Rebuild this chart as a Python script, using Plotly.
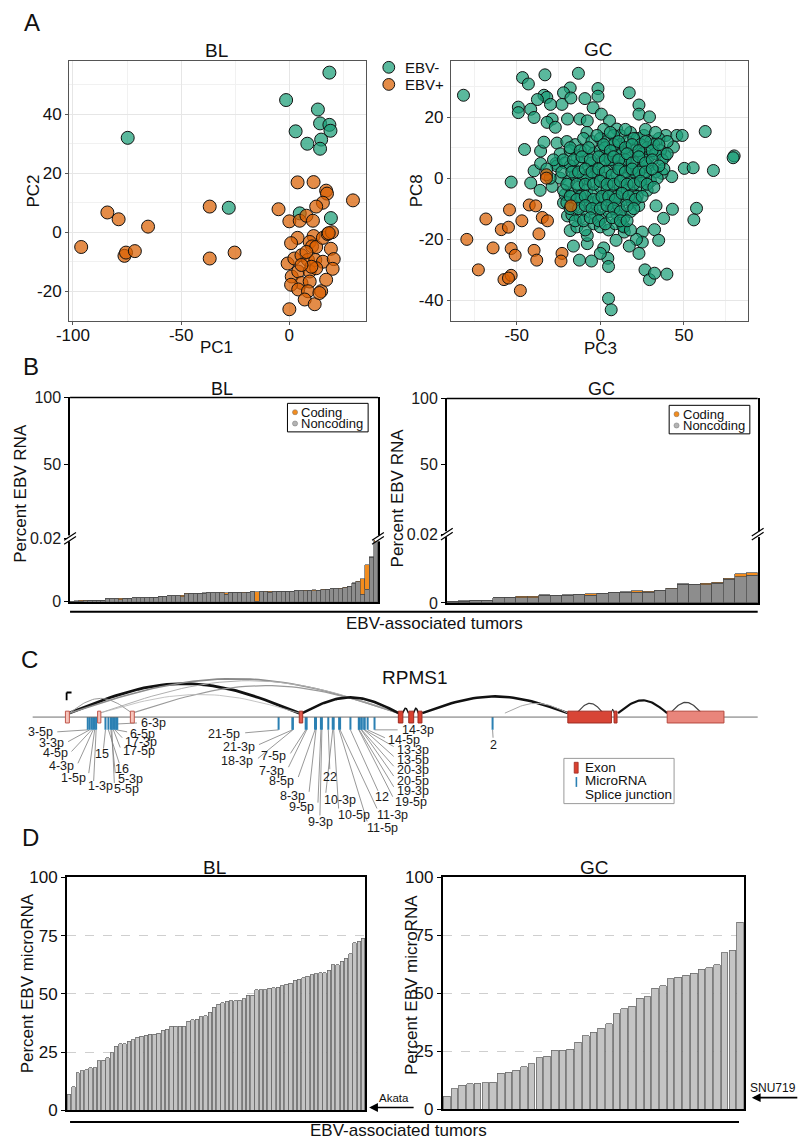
import math
import plotly.graph_objects as go

W, H = 800, 1147
FONT = "Liberation Sans"

# ---------------- Panel A : PCA ----------------
BL_NEG = [(18.5, 54.1), (-1.5, 44.8), (13.2, 41.6), (14.2, 36.9), (18.5, 36.4), (19.0, 34.4), (2.9, 34.2),
          (14.7, 31.4), (8.3, 30.0), (14.2, 28.3), (-74.7, 32.0), (-28.0, 8.3), (19.2, 4.8), (4.8, 6.4)]
BL_POS = [(-96.2, -5.0), (-84.1, 6.7), (-78.9, 4.4), (-65.3, 1.9), (-76.2, -8.0), (-75.5, -6.9), (-71.4, -6.4),
          (-36.8, 8.7), (-36.8, -8.9), (-25.3, -6.9), (-5.0, 7.8), (3.8, 16.9), (11.2, 17.0), (17.0, 14.1),
          (17.4, 13.1), (15.5, 10.0), (12.4, 8.7), (29.4, 10.8), (0.0, 3.7), (4.8, 3.9), (7.9, 5.6), (10.9, 3.9),
          (3.8, -1.9), (0.8, -3.7), (11.2, -1.3), (9.4, -3.3), (10.5, -4.8), (12.4, -5.0), (15.5, -1.9),
          (17.7, -0.6), (19.7, 0.0), (18.2, -0.3), (19.2, -5.6), (-0.8, -10.6), (2.3, -8.9), (5.6, -7.8),
          (8.6, -9.4), (12.0, -9.4), (15.5, -10.0), (20.5, -9.1), (20.0, -12.4), (1.1, -15.0), (4.1, -13.3),
          (9.4, -13.3), (12.4, -12.2), (10.2, -11.7), (5.6, -17.2), (0.8, -17.8), (4.1, -19.4), (9.4, -16.7),
          (8.6, -20.0), (14.7, -20.0), (17.0, -16.1), (7.1, -22.8), (11.7, -24.4), (0.0, -26.1), (13.9, -20.6),
          (5.6, -11.1), (7.9, -6.7)]
GC_NEG = [(-81.8, 27.2), (-46.5, 33.0), (-43.0, 30.9), (-33.1, 33.9), (-13.1, 34.4), (-18.0, 29.6), (-22.0, 28.0),
          (-33.7, 27.2), (-32.0, 26.5), (-37.6, 25.8), (-22.9, 24.2), (-17.6, 26.3), (-1.4, 29.4), (-1.4, 26.9),
          (-9.2, 26.1), (17.3, 28.0), (23.1, 24.0), (23.1, 21.0), (29.4, 20.1), (-49.0, 23.3), (-49.0, 21.5),
          (-41.6, 22.6), (-39.6, 19.9), (-29.8, 24.2), (-28.8, 19.4), (-31.8, 18.3), (-26.9, 16.7), (-19.6, 19.4),
          (-12.2, 19.4), (-7.8, 18.8), (-4.3, 23.1), (0.6, 21.0), (5.5, 18.8), (9.8, 16.1), (-45.3, 9.4),
          (-35.7, 8.9), (-33.7, 11.8), (-25.9, 11.5), (-53.3, -1.3), (-41.6, -1.6), (-39.6, 2.4), (-35.7, 4.8),
          (-28.8, -2.7), (-26.5, 4.8), (39.2, 14.0), (45.7, 14.0), (49.0, 14.0), (62.7, 15.3), (50.2, 3.2),
          (55.5, 3.4), (67.6, 2.5), (80.0, 7.3), (79.4, 6.7), (38.8, 7.2), (43.7, 10.2), (42.7, 0.5), (36.9, 1.6),
          (33.3, -9.1), (43.1, -10.2), (57.5, -9.9), (55.9, -13.7), (37.8, -13.2), (32.4, -16.9), (34.9, -20.4),
          (25.1, -17.7), (25.1, -21.0), (21.6, -20.1), (23.1, -24.7), (17.3, -22.3), (26.7, -30.1), (29.4, -33.3),
          (32.4, -31.2), (39.8, -31.5), (4.9, -39.5), (6.5, -43.2), (2.0, -22.9), (4.5, -26.3), (0.0, -24.7),
          (4.9, -29.0), (-5.3, -27.2), (-12.5, -26.9), (-16.1, -22.3), (-7.8, -21.5), (-7.8, -18.8), (9.4, -20.4),
          (14.3, -17.7), (13.3, -15.6), (-18.0, -17.2), (-19.6, -12.4), (-22.0, -8.1), (-21.0, -5.4),
          (-8, 15), (2, 16), (12, 14), (18, 15), (22, 13), (26, 14), (30, 12), (35, 13),
          (-20, 12), (-15, 11), (-10, 13), (-5, 12), (0, 13), (4, 12), (8, 14), (12, 11), (16, 12), (20, 13),
          (24, 11), (28, 10), (32, 11), (36, 9),
          (-24, 8), (-18, 9), (-14, 7), (-9, 9), (-4, 8), (0, 9), (4, 7), (9, 9), (13, 8), (17, 7), (21, 9),
          (25, 8), (29, 7), (33, 8), (37, 6),
          (-26, 4), (-21, 5), (-16, 3), (-12, 5), (-7, 4), (-3, 3), (1, 5), (5, 3), (9, 5), (13, 4), (17, 3),
          (21, 5), (25, 3), (29, 4), (33, 2), (38, 3),
          (-24, 0), (-19, -1), (-15, 1), (-10, 0), (-6, -1), (-2, 1), (2, 0), (6, -1), (10, 1), (14, 0), (18, -1),
          (22, 1), (26, 0), (30, -1), (34, 0),
          (-22, -4), (-17, -5), (-13, -3), (-8, -4), (-4, -5), (0, -3), (4, -4), (8, -5), (12, -3), (16, -4),
          (20, -5), (24, -3), (28, -4),
          (-20, -8), (-15, -9), (-11, -7), (-6, -8), (-2, -9), (3, -7), (7, -8), (11, -9), (15, -7), (19, -8),
          (23, -9),
          (-17, -12), (-12, -13), (-8, -11), (-3, -12), (1, -13), (5, -11), (10, -12), (14, -13), (18, -11),
          (-14, -16), (-9, -17), (-4, -15), (0, -16), (5, -17), (9, -15), (14, -16), (18, -17),
          (-5, 5), (3, 10), (15, 6), (10, -6), (-12, -6), (20, 2), (6, 6), (-1, -7), (12, 3), (-8, 1), (26, 6),
          (8, 11), (22, -6), (-18, 4), (-30, 0), (-28, 6), (-36, -4), (-32, 3),
          (-2, 14), (6, 15), (15, 16), (27, 16), (33, 15), (40, 12),
          (-18, 10), (-12, 9), (-7, 10), (2, 11), (6, 9), (11, 12), (15, 10), (19, 11), (23, 9), (27, 12),
          (31, 9), (35, 11), (40, 8),
          (-22, 6), (-16, 6), (-11, 7), (-6, 6), (-1, 7), (3, 6), (8, 7), (11, 6), (16, 8), (19, 5), (23, 7),
          (27, 5), (31, 6), (35, 4),
          (-23, 2), (-17, 2), (-13, 2), (-9, 3), (-5, 2), (-1, 3), (3, 2), (7, 1), (11, 3), (15, 2), (19, 3),
          (23, 2), (27, 2), (31, 3),
          (-20, -2), (-14, -2), (-9, -2), (-4, -2), (0, -1), (4, -2), (8, -2), (12, -1), (16, -2), (20, -2),
          (24, -1), (28, -2), (32, -3),
          (-18, -6), (-14, -7), (-9, -6), (-4, -7), (1, -6), (5, -6), (9, -7), (13, -5), (17, -6), (21, -7),
          (25, -6),
          (-18, -10), (-13, -10), (-9, -9), (-5, -10), (0, -10), (4, -9), (8, -10), (12, -11), (16, -9),
          (20, -10),
          (-15, -14), (-10, -14), (-6, -13), (-1, -14), (3, -15), (7, -13), (12, -14), (16, -14)]
GC_POS = [(-79.8, -20.1), (-72.9, -30.1), (-68.4, -13.4), (-64.1, -22.9), (-59.2, -16.9), (-54.9, -16.1),
          (-54.3, -10.4), (-53.3, -23.1), (-50.9, -25.3), (-57.6, -33.3), (-53.3, -31.9), (-54.9, -32.8),
          (-47.8, -36.9), (-46.9, -14.0), (-42.5, -8.8), (-38.6, -9.1), (-36.7, -18.3), (-39.6, -23.7),
          (-38.0, -26.9), (-34.7, -12.9), (-31.6, -14.0), (-32.2, 1.1), (-32.2, 0.0), (-22.9, -24.7),
          (-23.5, -27.2), (-17.6, -9.1)]

# ---------------- Panel B : percent EBV RNA ----------------
B_BL_NONCODING = [0.00009, 0.00019, 0.00016, 0.00037, 0.00040, 0.00040, 0.00043, 0.00047, 0.00087, 0.00093,
                  0.00095, 0.00068, 0.00112, 0.00115, 0.00121, 0.00124, 0.00127, 0.00130, 0.00134, 0.00140,
                  0.00174, 0.00180, 0.00186, 0.00189, 0.00192, 0.00149, 0.00258, 0.00264, 0.00267, 0.00270,
                  0.00273, 0.00276, 0.00276, 0.00286, 0.00289, 0.00236, 0.00292, 0.00295, 0.00298, 0.00280,
                  0.00304, 0.00307, 0.00009, 0.00311, 0.00317, 0.00304, 0.00320, 0.00326, 0.00329, 0.00332,
                  0.00335, 0.00342, 0.00348, 0.00351, 0.00360, 0.00354, 0.00366, 0.00382, 0.00398, 0.00404,
                  0.00410, 0.00416, 0.00447, 0.00484, 0.00590, 0.00637, 0.00239, 0.00394, 0.01410, 0.01894]
B_BL_CODING = [0, 0.00006, 0.00031, 0.00003, 0, 0.00003, 0, 0.00003, 0.00003, 0,
               0, 0.00047, 0.00003, 0, 0.00003, 0, 0.00003, 0, 0.00006, 0,
               0.00006, 0, 0.00009, 0, 0.00003, 0.00062, 0.00006, 0, 0.00006, 0,
               0.00006, 0, 0.00009, 0, 0.00006, 0.00047, 0, 0.00009, 0, 0.00025,
               0, 0.00006, 0.00304, 0, 0.00006, 0.00022, 0, 0.00006, 0, 0.00006,
               0, 0.00006, 0, 0.00009, 0, 0.00031, 0, 0.00006, 0, 0.00009,
               0, 0.00009, 0.00006, 0, 0.00009, 0.00016, 0.00488, 0.00776, 0.00016, 0.00047]
B_GC_NONCODING = [0.00037, 0.00057, 0.00077, 0.00086, 0.00151, 0.00163, 0.00151, 0.00151, 0.00229, 0.00229,
                  0.00229, 0.00237, 0.00229, 0.00277, 0.00314, 0.00314, 0.00314, 0.00314, 0.00363, 0.00420,
                  0.00543, 0.00543, 0.00523, 0.00571, 0.00694, 0.00763, 0.00809]
B_GC_CODING = [0, 0.00009, 0, 0, 0, 0, 0.00049, 0.00049, 0.00009, 0,
               0.00009, 0, 0.00037, 0, 0, 0.00009, 0.00037, 0.00029, 0, 0.00009,
               0.00009, 0, 0.00057, 0.00037, 0.00020, 0.00086, 0.00066]
B_TICKS_LOW = [0, 0.02]
B_TICKS_HIGH = [50, 100]

# ---------------- Panel D : percent EBV microRNA ----------------
D_BL = [6.9, 10.2, 16.1, 17.0, 17.5, 18.4, 18.4, 21.3, 21.5, 22.7, 24.7, 27.5, 28.6, 28.6, 29.6, 30.3, 31.3,
        31.9, 32.3, 32.6, 32.6, 33.1, 34.5, 34.8, 36.1, 36.1, 36.1, 36.2, 38.2, 39.0, 39.2, 40.3, 40.7, 42.1,
        44.2, 45.5, 46.2, 46.9, 47.0, 47.0, 47.2, 47.9, 49.4, 49.4, 51.7, 51.8, 51.8, 52.4, 52.7, 52.8, 53.4,
        54.2, 54.6, 55.9, 56.3, 56.9, 57.6, 58.2, 58.6, 59.0, 59.0, 60.2, 62.6, 62.6, 64.1, 65.2, 67.2, 72.0,
        72.6, 73.8]
D_GC = [5.6, 8.9, 10.4, 11.0, 11.4, 11.6, 11.7, 15.7, 16.1, 16.9, 18.4, 19.8, 22.3, 23.0, 25.6, 25.6, 26.0,
        28.9, 31.8, 33.3, 35.0, 37.0, 41.2, 43.3, 44.5, 48.0, 48.6, 52.2, 53.4, 56.3, 56.9, 57.9, 58.6, 60.4,
        61.1, 62.3, 67.5, 68.6, 80.6]
D_TICKS = [0, 25, 50, 75, 100]

# ---------------- Panel C : RPMS1 gene track (track units) ----------------
EXON_START = [53.3, 86.0, 119.3, 291.0, 391.7, 402.3, 411.7, 564.0, 611.0, 665.0]
EXON_END = [57.3, 89.3, 123.3, 294.5, 396.3, 407.3, 415.7, 608.3, 614.0, 722.7]
EXON_FILL = ['#f6c4bb', '#f6c4bb', '#f6c4bb', '#e2594c', '#d9402f', '#d9402f', '#d9402f', '#d84536', '#d84536',
             '#e9857b']
EXON_EDGE = ['#c0574c', '#c0574c', '#c0574c', '#a33126', '#9e2a20', '#9e2a20', '#9e2a20', '#9e2a20', '#9e2a20',
             '#b5483e']

MIR_NAMES = ["3-5p", "3-3p", "4-5p", "4-3p", "1-5p", "1-3p", "15", "16", "5-3p", "5-5p", "17-5p", "17-3p",
             "6-5p", "6-3p",
             "21-5p", "21-3p", "18-3p", "7-5p", "7-3p", "8-5p", "8-3p", "9-5p", "9-3p", "22", "10-3p", "10-5p",
             "11-5p", "11-3p", "12", "19-5p", "19-3p", "20-5p", "20-3p", "13-5p", "13-3p", "14-5p", "14-3p", "2"]
MIR_POS = [76, 78, 80, 81.5, 83, 84.5, 94, 97, 99.5, 100.5, 102, 103.5, 105, 106,
           270, 284, 284.5, 297.5, 298.5, 307, 308, 313, 314, 320.5, 325, 326,
           331.5, 332.5, 343, 351.5, 352, 354, 354.5, 357, 357.5, 360.5, 367.5, 487.5]
MIR_LABEL_X = [43, 54, 57.5, 64.5, 76, 74, 90, 111, 105, 101, 110, 112, 117, 128,
               233, 248, 246.5, 280, 278, 288, 299, 308, 298, 322, 314, 328,
               358, 368, 375, 386.5, 388, 388, 388, 388, 388, 379, 393, 488]
MIR_LABEL_Y = [735, 746.5, 756.5, 770, 781.5, 790.5, 758, 773, 783, 793, 755, 745, 737, 726,
               737, 750.5, 765, 760, 775, 785, 800, 811.5, 826.5, 781, 804, 820,
               833, 820, 801.5, 806.5, 795.5, 784.5, 774, 763.5, 753, 743, 733, 748]
MIR_ANCHOR = ['right', 'right', 'right', 'right', 'right', 'left', 'center', 'center', 'left', 'left', 'left',
              'left', 'left', 'left',
              'right', 'right', 'right', 'right', 'right', 'right', 'right', 'right', 'left', 'center', 'left',
              'left', 'left', 'left', 'center', 'left', 'left', 'left', 'left', 'left', 'left', 'left', 'left',
              'center']
MIR_LEAD_X = [45, 56, 59.5, 66, 77, 82, 92, 108, 104, 103, 109, 111, 116, 126,
              236, 250, 249, 282, 280, 290, 301, 310, 312, 322, 318, 331,
              360, 370, 371, 386, 387, 387, 387, 387, 387, 378, 391, 488]
MIR_LEAD_Y = [735, 745, 755, 767, 777, 785, 752, 767, 777, 787, 751, 741, 735, 726,
              736, 748, 762, 757, 771, 781, 796, 807, 820, 773, 797, 813,
              826, 813, 795, 801, 791, 780, 770, 760, 750, 741, 733, 741]

JUNC_START = [57, 57, 88, 121, 57, 88, 294, 396, 407, 416, 500, 573, 608, 615, 668]
JUNC_END = [291, 392, 392, 392, 121, 291, 392, 402, 412, 564, 564, 600, 611, 665, 700]
JUNC_PEAK = [686, 681, 683, 688, 701, 697, 700, 711, 711, 699, 706, 706, 712, 703, 705]
JUNC_COLOR = ['#111111', '#8a8a8a', '#b0b0b0', '#9a9a9a', '#9a9a9a', '#b5b5b5', '#111111', '#111111', '#111111',
              '#111111', '#a8a8a8', '#444444', '#111111', '#111111', '#444444']
JUNC_WIDTH = [2.8, 1.6, 1.0, 1.2, 1.0, 0.8, 2.6, 1.5, 1.5, 2.6, 1.0, 1.2, 1.0, 2.2, 1.2]

TEAL = 'rgba(27,158,119,0.72)'
ORANGE = 'rgba(217,95,2,0.72)'
BAR_ORANGE = '#f28c1e'
BAR_GRAY = '#8d8d8d'


def fx(x):
    return x / W


def fy(y):
    return 1 - y / H


def dom_x(a, b):
    return [a / W, b / W]


def dom_y(top, bottom):
    return [1 - bottom / H, 1 - top / H]


traces = []


def pts_trace(pts, color, xa, ya, size):
    return go.Scatter(x=[p[0] for p in pts], y=[p[1] for p in pts], mode='markers',
                      marker=dict(size=size, color=color, line=dict(color='#111', width=1)),
                      xaxis=xa, yaxis=ya, hoverinfo='skip', showlegend=False)


traces.append(pts_trace(BL_NEG, TEAL, 'x', 'y', 13))
traces.append(pts_trace(BL_POS, ORANGE, 'x', 'y', 13))
traces.append(pts_trace(GC_NEG, TEAL, 'x2', 'y2', 12))
traces.append(pts_trace(GC_POS, ORANGE, 'x2', 'y2', 12))


def bar_trace(vals, color, xa, ya, width, edge, lw):
    return go.Bar(x=list(range(1, len(vals) + 1)), y=vals, width=width,
                  marker=dict(color=color, line=dict(color=edge, width=lw)),
                  xaxis=xa, yaxis=ya, hoverinfo='skip', showlegend=False)


traces.append(bar_trace(B_BL_NONCODING, BAR_GRAY, 'x3', 'y3', 1.0, '#4a4a4a', 0.6))
traces.append(bar_trace(B_BL_CODING, BAR_ORANGE, 'x3', 'y3', 1.0, '#4a4a4a', 0.6))
traces.append(bar_trace(B_GC_NONCODING, BAR_GRAY, 'x5', 'y5', 1.0, '#4a4a4a', 0.7))
traces.append(bar_trace(B_GC_CODING, BAR_ORANGE, 'x5', 'y5', 1.0, '#4a4a4a', 0.7))
# invisible anchors so the upper (broken) axes render
traces.append(go.Scatter(x=[1], y=[50], xaxis='x3', yaxis='y4', mode='markers', marker=dict(opacity=0),
                         hoverinfo='skip', showlegend=False))
traces.append(go.Scatter(x=[1], y=[50], xaxis='x5', yaxis='y6', mode='markers', marker=dict(opacity=0),
                         hoverinfo='skip', showlegend=False))

traces.append(bar_trace(D_BL, '#c4c4c4', 'x7', 'y7', 0.82, '#6a6a6a', 0.8))
traces.append(bar_trace(D_GC, '#c4c4c4', 'x8', 'y8', 0.86, '#6a6a6a', 0.8))

# ---- Panel C traces ----
BASE = 716
for s, e, pk, c, w in zip(JUNC_START, JUNC_END, JUNC_PEAK, JUNC_COLOR, JUNC_WIDTH):
    n = 40
    xs = [s + (e - s) * i / n for i in range(n + 1)]
    ys = [BASE - (BASE - pk) * math.sin(math.pi * i / n) for i in range(n + 1)]
    traces.append(go.Scatter(x=xs, y=ys, mode='lines', line=dict(color=c, width=w), xaxis='x9', yaxis='y9',
                             hoverinfo='skip', showlegend=False))

lx, ly = [], []
for name, p, ex, ey in zip(MIR_NAMES, MIR_POS, MIR_LEAD_X, MIR_LEAD_Y):
    y0 = 727 if name == "6-3p" else 733
    lx += [p, ex, None]
    ly += [y0, ey, None]
traces.append(go.Scatter(x=lx, y=ly, mode='lines', line=dict(color='#7d7d7d', width=0.8), xaxis='x9',
                         yaxis='y9', hoverinfo='skip', showlegend=False))

mx, my = [], []
for p in MIR_POS:
    mx += [p, p, None]
    my += [720, 733, None]
traces.append(go.Scatter(x=mx, y=my, mode='lines', line=dict(color='#2b80b3', width=2), xaxis='x9',
                         yaxis='y9', hoverinfo='skip', showlegend=False))

# legend arc glyph for splice junction
gx = [568.5 + 9 * i / 20 for i in range(21)]
gy = [801 - 6 * math.sin(math.pi * i / 20) for i in range(21)]
traces.append(go.Scatter(x=gx, y=gy, mode='lines', line=dict(color='#222', width=1.2), xaxis='x9', yaxis='y9',
                         hoverinfo='skip', showlegend=False))

fig = go.Figure(traces)

# ---------------- axes ----------------
tf16 = dict(family=FONT, size=16, color='#1a1a1a')
tf17 = dict(family=FONT, size=17, color='#111')


def pca_ax(dom, rng, major, minor, standoff):
    return dict(domain=dom, range=rng, tickvals=major, ticktext=[str(v) for v in major], showgrid=True,
                gridcolor='#e6e6e6', gridwidth=1.2,
                minor=dict(tickvals=minor, showgrid=True, gridcolor='#f1f1f1', gridwidth=0.7, ticks=''),
                zeroline=False, showline=True, linecolor='#555', linewidth=1, mirror=True, ticks='outside',
                ticklen=3, tickcolor='#555', tickfont=tf17, ticklabelstandoff=standoff)


lay = dict(width=W, height=H, margin=dict(l=0, r=0, t=0, b=0), paper_bgcolor='white', plot_bgcolor='white',
           showlegend=False, barmode='stack')

lay['xaxis'] = pca_ax(dom_x(57, 359), [-101.8, 35.5], [-100, -50, 0], [-75, -25, 25], -4) | dict(anchor='y')
lay['yaxis'] = pca_ax(dom_y(53, 317), [-30, 58], [-20, 0, 20, 40], [-10, 10, 30, 50], 0) | dict(anchor='x')
lay['xaxis2'] = pca_ax(dom_x(445, 747), [-89.4, 88.2], [-50, 0, 50], [-75, -25, 25, 75], -4) | dict(anchor='y2')
lay['yaxis2'] = pca_ax(dom_y(53, 317), [-46.8, 38.4], [-40, -20, 0, 20], [-30, -10, 10, 30], 0) | dict(
    anchor='x2')


def bar_x(dom, n, anchor, lw):
    return dict(domain=dom, range=[0.5, n + 0.5], anchor=anchor, showticklabels=False, ticks='', showgrid=False,
                zeroline=False, showline=True, linecolor='black', linewidth=lw)


def bar_y(dom, rng, vals, text, anchor, lw, font):
    return dict(domain=dom, range=rng, anchor=anchor, tickvals=vals, ticktext=text, showgrid=False,
                zeroline=False, showline=True, linecolor='black', linewidth=lw, mirror=True, ticks='outside',
                ticklen=4, tickcolor='black', tickfont=font)


lay['xaxis3'] = bar_x(dom_x(58, 371), len(B_BL_NONCODING), 'y3', 1.5)
lay['yaxis3'] = bar_y(dom_y(538.3, 602.7), [0, 0.02], B_TICKS_LOW, ['0', '0.02'], 'x3', 1.5, tf16)
lay['yaxis4'] = bar_y(dom_y(395, 538.3), [-4.9, 100], B_TICKS_HIGH, ['50', '100'], 'x3', 1.5, tf16)
lay['xaxis5'] = bar_x(dom_x(441, 757), len(B_GC_NONCODING), 'y5', 1.5)
lay['yaxis5'] = bar_y(dom_y(534, 604), [0, 0.02], B_TICKS_LOW, ['0', '0.02'], 'x5', 1.5, tf16)
lay['yaxis6'] = bar_y(dom_y(396, 534), [-2.5, 100], B_TICKS_HIGH, ['50', '100'], 'x5', 1.5, tf16)

lay['xaxis7'] = bar_x(dom_x(55, 358), len(D_BL), 'y7', 2) | dict(mirror=True)
lay['yaxis7'] = bar_y(dom_y(883, 1120), [0, 100], D_TICKS, [str(v) for v in D_TICKS], 'x7', 2, tf17) | dict(
    showgrid=True, gridcolor='#cfcfcf', griddash='dash', gridwidth=1)
lay['xaxis8'] = bar_x(dom_x(437, 743), len(D_GC), 'y8', 2) | dict(mirror=True)
lay['yaxis8'] = bar_y(dom_y(883, 1119), [0, 100], D_TICKS, [str(v) for v in D_TICKS], 'x8', 2, tf17) | dict(
    showgrid=True, gridcolor='#cfcfcf', griddash='dash', gridwidth=1)

lay['xaxis9'] = dict(domain=[0, 1], range=[0, 800], visible=False, anchor='y9')
lay['yaxis9'] = dict(domain=dom_y(640, 850), range=[850, 640], visible=False, anchor='x9')

# ---------------- annotations ----------------
anns = []


def A(text, x, y, size, xanchor='center', yanchor='middle', angle=0, color='#111', xref='paper', yref='paper'):
    if xref == 'paper':
        x = fx(x)
    if yref == 'paper':
        y = fy(y)
    anns.append(dict(text=text, x=x, y=y, xref=xref, yref=yref, showarrow=False, xanchor=xanchor,
                     yanchor=yanchor, textangle=angle, font=dict(family=FONT, size=size, color=color)))


for letter, x, y in [("A", 19, 14), ("B", 18, 364), ("C", 17, 661), ("D", 18, 842)]:
    A(letter, x, y, 24)

# panel A
A("BL", 207, 42, 19)
A("GC", 595, 41, 19)
A("PC2", 21, 185, 17, angle=-90)
A("PC1", 207, 344, 17)
A("PC8", 411, 185, 17, angle=-90)
A("PC3", 597, 345, 17)
A("EBV-", 396, 59, 15, xanchor='left')
A("EBV+", 396, 76.5, 15, xanchor='left')

# panel B
A("BL", 212, 386, 18)
A("GC", 598, 386, 18)
A("Percent EBV RNA", 8, 492, 17, angle=-90)
A("Percent EBV RNA", 391, 497, 17, angle=-90)
A("Coding", 291, 410, 13, xanchor='left')
A("Noncoding", 291, 421.5, 13, xanchor='left')
A("Coding", 679, 412, 13, xanchor='left')
A("Noncoding", 679, 423.5, 13, xanchor='left')
A("EBV-associated tumors", 428, 625, 17)

# panel C
A("RPMS1", 408, 680, 19)
for name, tx, ty, anc in zip(MIR_NAMES, MIR_LABEL_X, MIR_LABEL_Y, MIR_ANCHOR):
    A(name, tx, ty, 12.5, xanchor=anc, xref='x9', yref='y9', color='#1a1a1a')
A("Exon", 579, 771.5, 13.5, xanchor='left', xref='x9', yref='y9')
A("MicroRNA", 579, 785, 13.5, xanchor='left', xref='x9', yref='y9')
A("Splice junction", 579, 798.5, 13.5, xanchor='left', xref='x9', yref='y9')

# panel D
A("BL", 205, 873, 19)
A("GC", 591, 873, 19)
A("Percent EBV microRNA", 15, 991, 17, angle=-90)
A("Percent EBV microRNA", 405, 992, 17, angle=-90)
A("Akata", 387, 1107, 11.5)
A("SNU719", 773, 1097, 12)
A("EBV-associated tumors", 392, 1140, 17)

# arrows
for head_x, y, length in [(362, 1117, 46), (751, 1107, 47)]:
    anns.append(dict(x=fx(head_x), y=fy(y), xref='paper', yref='paper', ax=length, ay=0, axref='pixel',
                     ayref='pixel', showarrow=True, arrowhead=2, arrowsize=1.1, arrowwidth=1.6,
                     arrowcolor='black', text=''))

lay['annotations'] = anns

# ---------------- shapes ----------------
shapes = []


def L(x0, y0, x1, y1, color='black', width=1.0, ref='paper', dash='solid'):
    if ref == 'paper':
        x0, x1, y0, y1 = fx(x0), fx(x1), fy(y0), fy(y1)
        xr, yr = 'paper', 'paper'
    else:
        xr, yr = 'x9', 'y9'
    shapes.append(dict(type='line', x0=x0, y0=y0, x1=x1, y1=y1, xref=xr, yref=yr,
                       line=dict(color=color, width=width, dash=dash)))


def R(x0, y0, x1, y1, fill, edge, width=1.0, ref='paper', kind='rect'):
    if ref == 'paper':
        x0, x1, y0, y1 = fx(x0), fx(x1), fy(y0), fy(y1)
        xr, yr = 'paper', 'paper'
    else:
        xr, yr = 'x9', 'y9'
    shapes.append(dict(type=kind, x0=x0, y0=y0, x1=x1, y1=y1, xref=xr, yref=yr, fillcolor=fill,
                       line=dict(color=edge, width=width)))


# panel A legend
R(376, 53.3, 388, 65.3, TEAL, '#111', 1, kind='circle')
R(376, 70.7, 388, 82.7, ORANGE, '#111', 1, kind='circle')

# panel B frames: top lines, breaks, legends
L(58, 395, 371, 395, width=1.5)
L(441, 396, 757, 396, width=1.5)
for bx, by in [(58, 538.3), (371, 538.3), (441, 534), (757, 534)]:
    R(bx - 3, by - 3, bx + 3, by + 3, 'white', 'white', 0)
    L(bx - 6, by + 2, bx + 6, by - 6, width=1.2)
    L(bx - 6, by + 6, bx + 6, by - 2, width=1.2)
R(279, 401, 361, 430, 'white', 'black', 1)
R(667, 403, 749, 432, 'white', 'black', 1)
for cx, cy, col in [(286.7, 410, BAR_ORANGE), (286.7, 421.5, '#b3b3b3'), (674.5, 412, BAR_ORANGE),
                    (674.5, 423.5, '#b3b3b3')]:
    R(cx - 2.6, cy - 2.6, cx + 2.6, cy + 2.6, col, '#777', 0.5, kind='circle')
L(58, 613, 757, 613, width=2)

# panel C
L(20, 720, 757, 720, color='#6e6e6e', width=1, ref='c')
for s, e, f, ed in zip(EXON_START, EXON_END, EXON_FILL, EXON_EDGE):
    R(s, 714, e, 726, f, ed, 1, ref='c')
L(54.5, 703, 54.5, 695, width=1.8, ref='c')
L(54.5, 695, 59.5, 695, width=1.8, ref='c')
R(560, 762, 672, 808, 'white', '#9a9a9a', 1, ref='c')
R(570.5, 766, 574.5, 777, '#d9402f', '#9e2a20', 0.8, ref='c')
L(572.7, 781, 572.7, 791, color='#2b80b3', width=1.6, ref='c')

# panel D
L(58, 1131.7, 738, 1131.7, width=2)

lay['shapes'] = shapes
fig.update_layout(**lay)
fig.write_html("out.html", config={'displayModeBar': False},
               post_script="document.body.style.margin='0';document.body.style.overflow='hidden';")
